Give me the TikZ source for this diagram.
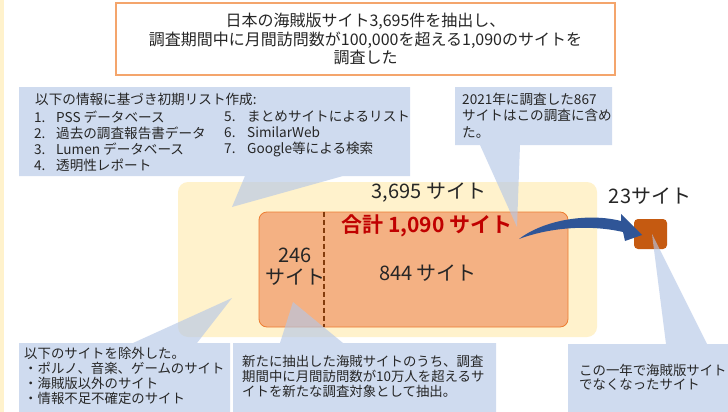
\documentclass[tikz,border=0pt]{standalone}
\usepackage{fontspec}
\setmainfont{Noto Sans CJK JP}[BoldFont={Noto Sans CJK JP Bold}]
\usetikzlibrary{backgrounds}

\definecolor{paleyellow}{HTML}{FFF2CC}
\definecolor{peach}{HTML}{F4B183}
\definecolor{peachline}{HTML}{ED7D31}
\definecolor{rust}{HTML}{C55A11}
\definecolor{darkrust}{HTML}{843C0C}
\definecolor{callblue}{HTML}{B4C7E7}
\definecolor{arrowblue}{HTML}{2F5597}
\definecolor{totalred}{HTML}{C00000}
\definecolor{titleline}{HTML}{F4A56C}

\begin{document}
\begin{tikzpicture}[x=1pt, y=-1pt,
    headbox/.style ={draw=titleline, line width=1.2pt, fill=white, minimum width=499pt,
      minimum height=72pt, align=center, text=black!85, font=\fontsize{16}{18.5}\selectfont},
    allbox/.style ={fill=paleyellow, rounded corners=10pt, minimum width=419pt, minimum height=155pt},
    targetbox/.style ={fill=peach, draw=peachline, line width=0.8pt, rounded corners=8pt,
      minimum width=309pt, minimum height=115pt},
    gonebox/.style ={fill=rust, rounded corners=4pt, minimum width=33pt, minimum height=30pt},
    bigtext/.style ={inner sep=0, text=black!85, align=center, font=\fontsize{20}{22}\selectfont},
    callbox/.style ={inner sep=0, outer sep=0, anchor=north west},
    callfill/.style ={fill=callblue, fill opacity=0.63},
    calltext/.style ={inner sep=0, anchor=north west, align=left, text=black!85},
    divider/.style ={draw=darkrust, line width=2pt, dash pattern=on 5pt off 3pt}]
   \useasboundingbox (0,0) rectangle (728,412);

   % site boxes
   \begin{scope}[on background layer]
   \fill[white] (0,0) rectangle (728,412);
   \fill[paleyellow] (0,0) rectangle (4,412);
   \node[allbox] (all) at (387.5,259.5) {};
   \node[targetbox] (target) at (413.5,269.5) {};
   \node[gonebox] (gone) at (650.5,234) {};
   \end{scope}

   % title
   \node[headbox] (head) at (365.5,39)
     {日本の海賊版サイト3,695件を抽出し、\\調査期間中に月間訪問数が100,000を超える1,090のサイトを\\調査した};

   \coordinate (cut) at (324,0);
   \draw[divider] (target.north -| cut) -- (target.south -| cut);

   \node[bigtext] (allcount) at (429,193) {3,695 サイト};
   \node[bigtext, text=totalred, font=\fontsize{21}{23}\selectfont\bfseries] (total) at (427,226) {合計 1,090 サイト};
   \node[bigtext] (oldcount) at (295,267) {246\\サイト};
   \node[bigtext] (newcount) at (428,273) {844 サイト};
   \node[bigtext] (gonecount) at (650,196) {23サイト};

   % curved arrow
   \fill[arrowblue] (519,239) .. controls (545,219) and (590,213) .. (621,221)
     -- (621,214) -- (642,235) -- (625,241) -- (623,232)
     .. controls (588,224) and (548,228) .. (519,239) -- cycle;

   % callouts
   \node[callbox, minimum width=391pt, minimum height=89pt] (lst) at (19,87) {};
   \node[callbox, minimum width=157pt, minimum height=58pt] (note) at (455,87) {};
   \node[callbox, minimum width=211pt, minimum height=69pt] (excl) at (19,343) {};
   \node[callbox, minimum width=263pt, minimum height=69pt] (newc) at (233,343) {};
   \node[callbox, minimum width=160pt, minimum height=68pt] (lost) at (568,344) {};
   \coordinate (lsttip) at (232,207);
   \coordinate (notetip) at (517,227);
   \coordinate (excltip) at (232,298);
   \coordinate (newctip) at (293,302);
   \coordinate (losttip) at (652,234);

   \begin{scope}[on background layer]
   \fill[callfill] (lst.north west) rectangle (lst.south east) (245,176) -- (lsttip) -- (343,176) -- cycle;
   \fill[callfill] (note.north west) rectangle (note.south east) (480,145) -- (notetip) -- (520,145) -- cycle;
   \fill[callfill] (excl.north west) rectangle (excl.south east) (133,343) -- (excltip) -- (197,343) -- cycle;
   \fill[callfill] (newc.north west) rectangle (newc.south east) (280,343) -- (newctip) -- (343,343) -- cycle;
   \fill[callfill] (lost.north west) rectangle (lost.south east) (666,344) -- (losttip) -- (707,344) -- cycle;
   \end{scope}

   \node[calltext, anchor=west, font=\fontsize{13.6}{16}\selectfont] (lsthead) at (35,99) {以下の情報に基づき初期リスト作成:};
   \node[calltext, font=\fontsize{13.6}{16}\selectfont] (lstleft) at (34,111)
     {\makebox[22pt][l]{1.}PSS データベース\\\makebox[22pt][l]{2.}過去の調査報告書データ\\
      \makebox[22pt][l]{3.}Lumen データベース\\\makebox[22pt][l]{4.}透明性レポート};
   \node[calltext, font=\fontsize{13.6}{16}\selectfont] (lstright) at (224,111)
     {\makebox[23pt][l]{5.}まとめサイトによるリスト\\\makebox[23pt][l]{6.}SimilarWeb\\
      \makebox[23pt][l]{7.}Google等による検索};
   \node[calltext, font=\fontsize{13.6}{16.5}\selectfont] (notetext) at (462,92.5)
     {2021年に調査した867\\サイトはこの調査に含め\\た。};
   \node[calltext, font=\fontsize{13.4}{14.7}\selectfont] (excltext) at (24,347.5)
     {以下のサイトを除外した。\\・ポルノ、音楽、ゲームのサイト\\・海賊版以外のサイト\\・情報不足不確定のサイト};
   \node[calltext, font=\fontsize{13.4}{15}\selectfont] (newctext) at (242,355.5)
     {新たに抽出した海賊サイトのうち、調査\\期間中に月間訪問数が10万人を超えるサ\\イトを新たな調査対象として抽出。};
   \node[calltext, font=\fontsize{13.4}{14.5}\selectfont] (losttext) at (579,363.5)
     {この一年で海賊版サイト\\でなくなったサイト};
\end{tikzpicture}
\end{document}
